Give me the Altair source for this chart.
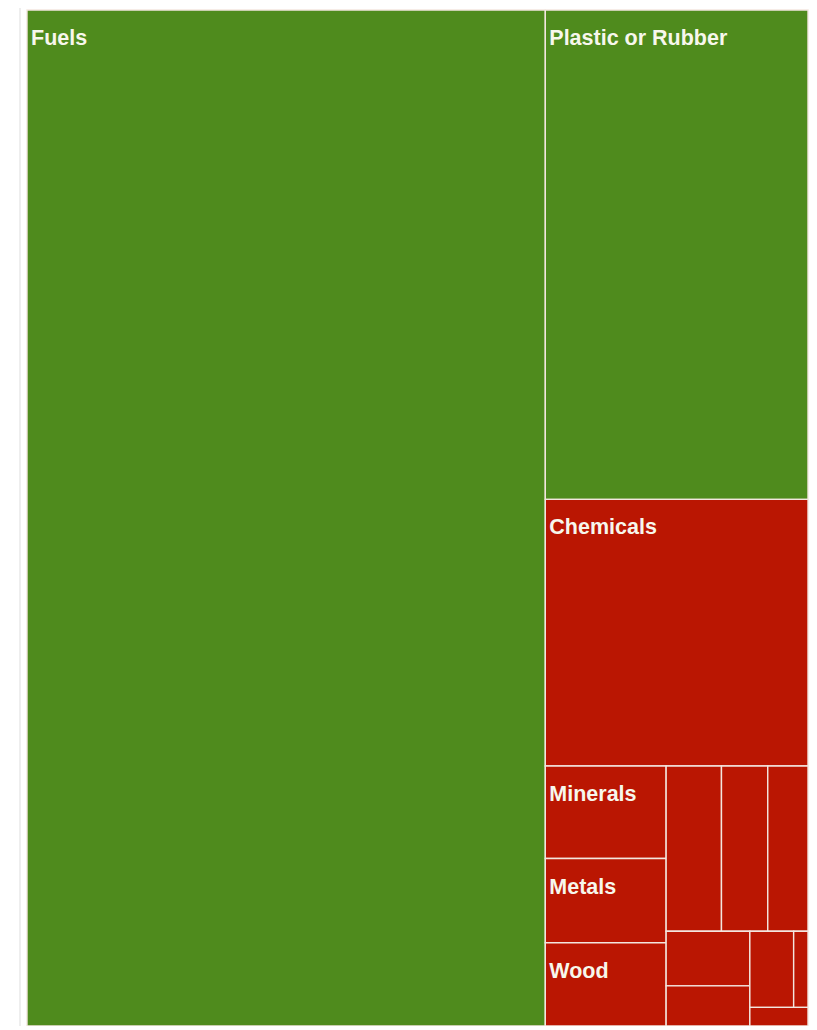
import altair as alt
import pandas as pd

# ---- data ----
names = ["Fuels", "Plastic or Rubber", "Chemicals", "Minerals", "Metals", "Wood",
         "Stone and Glass", "Machines", "Textiles", "Vegetable Products",
         "Foodstuffs", "Transportation", "Animal Products", "Miscellaneous"]
values = [525770, 128344, 69958, 11160, 10150, 10050,
          9130, 7636, 6640, 4565, 3350, 3330, 1090, 1080]
groups = ["Export", "Export", "Import", "Import", "Import", "Import",
          "Import", "Import", "Import", "Import", "Import", "Import", "Import", "Import"]

# ---- squarified treemap layout (d3-style) ----
LAYOUT_W = 781.0
LAYOUT_H = 677.0
RATIO = 1.72


def squarify(vals, x0, y0, x1, y1, ratio):
    rects = []
    value = float(sum(vals))
    n = len(vals)
    i0 = i1 = 0
    while i0 < n:
        dx, dy = x1 - x0, y1 - y0
        sum_v = vals[i1]
        i1 += 1
        min_v = max_v = sum_v
        alpha = max(dy / dx, dx / dy) / (value * ratio)
        beta = sum_v * sum_v * alpha
        min_ratio = max(max_v / beta, beta / min_v)
        while i1 < n:
            nv = vals[i1]
            sum_v += nv
            min_v = min(min_v, nv)
            max_v = max(max_v, nv)
            beta = sum_v * sum_v * alpha
            new_ratio = max(max_v / beta, beta / min_v)
            if new_ratio > min_ratio:
                sum_v -= nv
                break
            min_ratio = new_ratio
            i1 += 1
        row = vals[i0:i1]
        if dx < dy:
            ny = y0 + dy * sum_v / value
            cx = x0
            for v in row:
                w = (x1 - x0) * v / sum_v
                rects.append((cx, y0, cx + w, ny))
                cx += w
            y0 = ny
        else:
            nx = x0 + dx * sum_v / value
            cy = y0
            for v in row:
                h = (y1 - y0) * v / sum_v
                rects.append((x0, cy, nx, cy + h))
                cy += h
            x0 = nx
        value -= sum_v
        i0 = i1
    return rects


rects = squarify(values, 0.0, 0.0, LAYOUT_W, LAYOUT_H, RATIO)

PX_W, PX_H = 781, 1016
sx = PX_W / LAYOUT_W
sy = PX_H / LAYOUT_H

rows = []
for name, val, grp, (a, b, c, d) in zip(names, values, groups, rects):
    wpx = (c - a) * sx
    hpx = (d - b) * sy
    show = wpx >= len(name) * 11 + 8 and hpx >= 50
    rows.append({"name": name, "value": val, "group": grp,
                 "x0": a, "y0": b, "x1": c, "y1": d,
                 "label": name if show else ""})
df = pd.DataFrame(rows)

xs = alt.Scale(domain=[0, LAYOUT_W], nice=False, zero=False)
ys = alt.Scale(domain=[0, LAYOUT_H], nice=False, zero=False, reverse=True)

base = alt.Chart(df)

cells = base.mark_rect(stroke="#f3e6df", strokeWidth=1.4).encode(
    x=alt.X("x0:Q", scale=xs, axis=None),
    x2="x1:Q",
    y=alt.Y("y0:Q", scale=ys, axis=None),
    y2="y1:Q",
    color=alt.Color("group:N",
                    scale=alt.Scale(domain=["Export", "Import"],
                                    range=["#4f8b1d", "#ba1602"]),
                    legend=None),
    tooltip=["name:N", "value:Q"],
)

labels = base.mark_text(
    align="left", baseline="alphabetic", dx=4, dy=35,
    font="Liberation Sans, Arial, sans-serif",
    fontSize=21.5, fontWeight="bold", color="#f7f7ec",
).encode(
    x=alt.X("x0:Q", scale=xs, axis=None),
    y=alt.Y("y0:Q", scale=ys, axis=None),
    text="label:N",
)

frame_l = alt.Chart(pd.DataFrame({"k": [0]})).mark_rule(color="#dddddd", strokeWidth=1).encode(
    x=alt.value(-7), y=alt.value(-10), y2=alt.value(1020))

chart = alt.layer(frame_l, cells, labels).properties(
    width=PX_W, height=PX_H,
    autosize=alt.AutoSizeParams(type="none"),
    padding={"left": 19, "top": 2, "right": 1, "bottom": 0},
).configure_view(stroke=None)

chart.save("out.html", embed_options={"renderer": "svg", "actions": False})
